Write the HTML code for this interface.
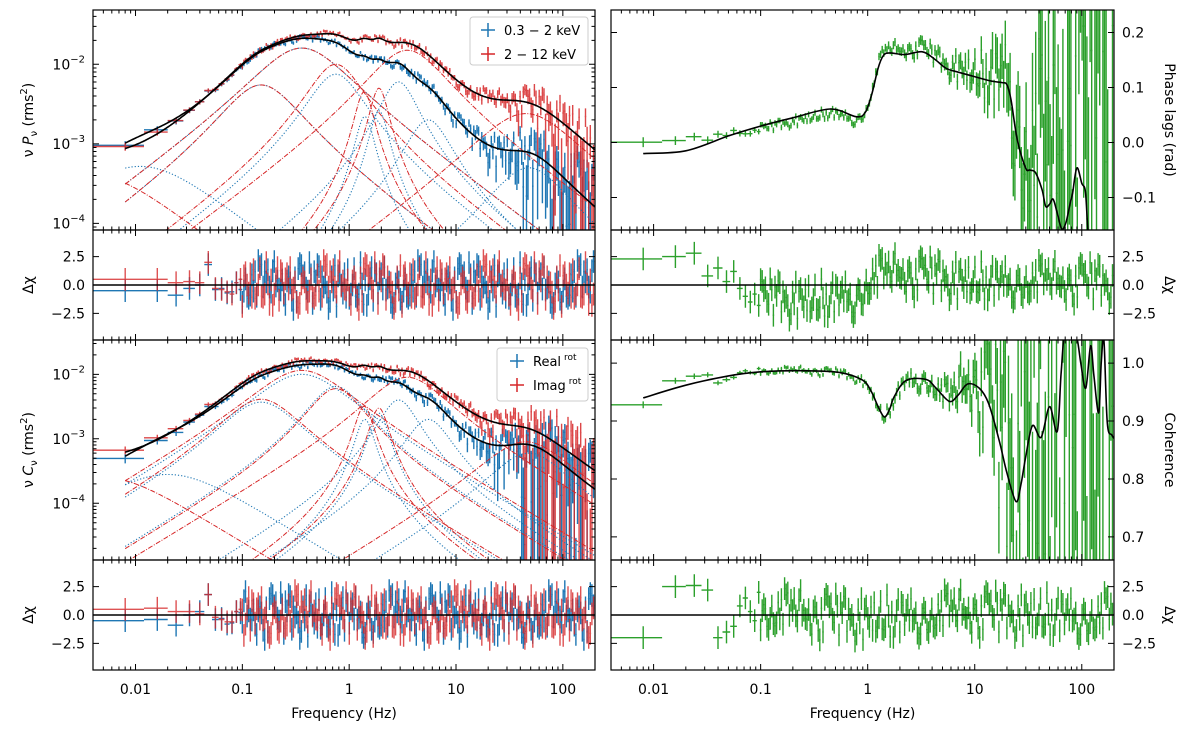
<!DOCTYPE html>
<html><head><meta charset="utf-8"><style>
html,body{margin:0;padding:0;background:#fff;overflow:hidden;width:1200px;height:732px;}
svg{display:block;font-family:"DejaVu Sans","Liberation Sans",sans-serif;}
</style></head><body>
<svg id="c" width="1200" height="732" xmlns="http://www.w3.org/2000/svg"></svg>
<script>
// ---------- data ----------
// Lorentzian components: peak frequency (Hz), quality factor, peak nuP value
const psBlueNu=[0.011,0.15,0.36,0.75,1.4,1.9,2.9,5.5,48];
const psBlueQ=[0,0.5,0.35,0.8,2.5,2.5,1.2,1,0.5];
const psBluePk=[5.2e-4,5.5e-3,1.6e-2,7.5e-3,2.2e-3,2.6e-3,6e-3,2e-3,5e-4];
const psRedNu=[0.004,0.15,0.36,0.75,1.38,1.9,3.5,45];
const psRedQ=[0,0.5,0.35,0.8,2.5,2.5,0.5,0.3];
const psRedPk=[4e-4,5.5e-3,1.6e-2,1.0e-2,4.5e-3,5e-3,1.5e-2,2.4e-3];
const csRealNu=[0.02,0.15,0.36,0.75,1.4,1.9,2.9,5.5,48];
const csRealQ=[0,0.5,0.35,0.8,2.5,2.5,1.2,1,0.5];
const csRealPk=[2.8e-4,3.7e-3,1.0e-2,6.5e-3,2e-3,2.5e-3,4e-3,2e-3,6e-4];
const csImagNu=[0.005,0.15,0.36,0.75,1.38,1.9,3.5,45];
const csImagQ=[0,0.5,0.35,0.8,2.5,2.5,0.5,0.4];
const csImagPk=[2.5e-4,4.1e-3,1.15e-2,6e-3,3.2e-3,3e-3,9e-3,9e-4];
// phase-lag model
const lagF=[0.008,0.02,0.05,0.1,0.2,0.45,0.78,0.95,1.1,1.25,1.4,1.6,2.2,3.24,4.2,5.4,7,9.5,14,18,20,21.8,25,29.9,33,37,42.6,46,50,54,59,65,71,78,82,90,100,108,114,120];
const lagV=[-0.02,-0.015,0.012,0.03,0.045,0.061,0.047,0.055,0.09,0.135,0.158,0.163,0.16,0.165,0.152,0.135,0.128,0.121,0.112,0.109,0.105,0.078,0.005,-0.046,-0.05,-0.055,-0.086,-0.116,-0.112,-0.103,-0.128,-0.157,-0.146,-0.11,-0.092,-0.046,-0.074,-0.089,-0.159,-0.2];
// coherence model
const cohF=[0.008,0.02,0.05,0.1,0.23,0.54,0.89,1.08,1.25,1.43,1.6,1.77,2.28,3.5,4.35,5.8,7,8.57,11,13.5,16.9,20,24.3,27,30,34.6,41.7,50,59,64,70,80,90,98,109,121,130,144,152,161,173,191,200];
const cohV=[0.94,0.962,0.978,0.985,0.987,0.984,0.971,0.951,0.925,0.907,0.92,0.942,0.970,0.972,0.957,0.934,0.945,0.964,0.957,0.93,0.867,0.81,0.761,0.79,0.839,0.892,0.872,0.925,0.882,0.98,1.08,1.1,1.044,1.0,0.957,1.03,0.977,0.914,1.0,1.04,0.897,0.876,0.87];
// residual scatter (sigma units), read as typical pattern
const noise=[0.8,-1.2,0.3,1.9,-0.6,-1.8,1.1,0.2,-0.9,1.5,-2.1,0.6,1.3,-0.4,-1.5,2.2,-0.2,0.9,-1.1,0.4,1.7,-2.4,0.1,-0.7,1.2,-1.3,2.0,-0.5,0.7,-1.9,1.4,0.0,-1.0,1.8,-0.3,-1.6,0.5,2.3,-0.8,1.0,-1.4,0.3,1.6,-2.0,-0.1,1.1,-0.6,0.8,-1.7,2.1,-0.9,0.4,-1.2,1.3,-0.2,-2.2,1.9,0.6,-0.4,1.5,-1.1,0.2,-1.8,0.9,1.7,-0.5,-1.3,2.4,-0.7,0.1,1.2,-1.5,0.5,-0.9,1.8,-2.3,0.7,-0.3,1.4,-1.0,0.0,2.0,-1.6,0.3,-0.6,1.1,-1.9,1.6,-0.2,0.8,-1.4,2.2,-0.8,0.4,-1.1,1.3,-0.5,-1.7,1.0,0.6];
// low-frequency residuals (first 12 bins)
const resPsBlueLow=[-0.5,-0.5,-0.9,-0.3,0.0,1.8,-0.4,-0.3,-0.7,-0.6,0.2,-0.4];
const resPsRedLow=[0.5,0.5,0.2,0.3,0.2,2.0,-0.3,-0.4,-0.6,-0.8,0.2,0.5];
const resCsBlueLow=[-0.5,-0.4,-0.9,0.0,0.3,1.8,-0.4,-0.3,-0.8,-0.7,0.3,0.2];
const resCsRedLow=[0.5,0.6,0.3,0.3,0.1,1.8,-0.2,-0.4,-0.6,-0.6,0.3,0.5];
const resLagLow=[2.3,2.5,2.8,0.8,1.5,0.3,1.2,-0.3,-1.0,-1.5,-0.8,-1.8];
const resCohLow=[-2.0,2.5,2.6,2.2,-2.0,-1.5,-1.0,0.8,1.5,0.3,-0.5,2.0];
const trendLagF=[0.1,0.3,0.8,1.1,2,10,200];
const trendLagV=[-1.2,-1.3,-1.0,0.6,1.0,0.3,0.2];
const trendCohF=[0.1,1,10,200];
const trendCohV=[0.3,-0.3,0.2,-0.2];
// uncertainties
const errF=[0.008,0.1,1,10,30,60,200];
const errPsBlue=[0.12,0.05,0.04,0.1,0.25,0.5,1.0];
const errPsRed=[0.12,0.05,0.04,0.08,0.15,0.3,0.6];
const errCsBlue=[0.15,0.06,0.05,0.12,0.35,0.8,1.5];
const errCsRed=[0.15,0.06,0.05,0.1,0.25,0.6,1.3];
const errLagF=[0.008,0.1,1,5,10,20,40,100,200];
const errLagV=[0.009,0.005,0.006,0.01,0.02,0.045,0.12,0.3,0.5];
const errCohF=[0.008,0.1,1,5,10,16,25,50,100,200];
const errCohV=[0.006,0.003,0.004,0.012,0.03,0.07,0.15,0.3,0.5,0.7];
const xTickVals=[0.01,0.1,1,10,100];
const xTickLabels=["0.01","0.1","1","10","100"];

// ---------- helpers ----------
const NS="http://www.w3.org/2000/svg";
const svg=document.getElementById("c");
function mk(tag,attrs,parent){const e=document.createElementNS(NS,tag);for(const k in attrs)e.setAttribute(k,attrs[k]);(parent||svg).appendChild(e);return e;}
const LX0=Math.log10(0.004),LX1=Math.log10(200);
function interp(xs,ys,x){const lx=Math.log10(x);const L=xs.map(v=>Math.log10(v));if(lx<=L[0])return ys[0];for(let i=1;i<L.length;i++){if(lx<=L[i]){const t=(lx-L[i-1])/(L[i]-L[i-1]);return ys[i-1]+t*(ys[i]-ys[i-1]);}}return ys[ys.length-1];}
function lor(f,nu,Q,pk){const D=nu/Math.sqrt(1+4*Q*Q),f0=2*Q*D;const g=x=>x*D/(D*D+(x-f0)*(x-f0));return pk*g(f)/g(nu);}
function total(f,N,Q,P){let s=0;for(let i=0;i<N.length;i++)s+=lor(f,N[i],Q[i],P[i]);return s;}

const PL={x0:93,x1:595},PR={x0:611,x1:1114};
function panel(col,y0,y1,log,ymin,ymax){return {x0:col.x0,x1:col.x1,y0:y0,y1:y1,log:log,ymin:ymin,ymax:ymax};}
function X(p,f){return p.x0+(Math.log10(f)-LX0)/(LX1-LX0)*(p.x1-p.x0);}
function Y(p,v){let t;if(p.log){if(v<=0)return p.y1+15;t=(Math.log10(v)-p.ymin)/(p.ymax-p.ymin);}else t=(v-p.ymin)/(p.ymax-p.ymin);let y=p.y1-t*(p.y1-p.y0);return Math.max(p.y0-15,Math.min(p.y1+15,y));}

const pPS=panel(PL,10,230,true,-4.084,-1.317);
const pR1=panel(PL,230,340,false,-4.85,4.85);
const pCS=panel(PL,340,560,true,-4.879,-1.468);
const pR2=panel(PL,560,670,false,-4.85,4.85);
const pLag=panel(PR,10,230,false,-0.159,0.241);
const pR3=panel(PR,230,340,false,-4.85,4.85);
const pCoh=panel(PR,340,560,false,0.66,1.04);
const pR4=panel(PR,560,670,false,-4.85,4.85);

// frequency bins
const freqs=[],halfw=[];
for(let k=1;k<=12;k++){freqs.push(0.008*k);halfw.push(0.004);}
for(let f=0.1;f<200;f*=1.035){freqs.push(f);halfw.push(f*0.0175);}

function resid(low,s,amp,tF,tV){return freqs.map((f,i)=>{if(i<low.length)return low[i];const t=tF?interp(tF,tV,f):0;return t+amp*noise[(i*7+s*13)%noise.length];});}
const rPsB=resid(resPsBlueLow,1,0.9),rPsR=resid(resPsRedLow,2,0.9);
const rCsB=resid(resCsBlueLow,3,0.9),rCsR=resid(resCsRedLow,4,0.9);
const rLag=resid(resLagLow,5,0.8,trendLagF,trendLagV);
const rCoh=resid(resCohLow,6,0.9,trendCohF,trendCohV);

let clipId=0;
function clipFor(p){const id="cl"+(clipId++);const cp=mk("clipPath",{id:id});mk("rect",{x:p.x0,y:p.y0,width:p.x1-p.x0,height:p.y1-p.y0},cp);return "url(#"+id+")";}

function frame(p,name,o){
  const g=mk("g",{});
  
  
  let d="";
  for(let e=-3;e<=2;e++)for(let m=1;m<=9;m++){const f=m*Math.pow(10,e);if(f<0.004||f>200)continue;const x=X(p,f),L=m===1?6:3.5;d+=`M${x},${p.y1}v${-L}M${x},${p.y0}v${L}`;}
  if(p.log){for(let e=-5;e<=-1;e++)for(let m=1;m<=9;m++){const v=m*Math.pow(10,e);const lv=Math.log10(v);if(lv<p.ymin||lv>p.ymax)continue;const y=Y(p,v),L=m===1?6:3.5;d+=`M${p.x0},${y}h${L}M${p.x1},${y}h${-L}`;}}
  else{for(const v of o.yt){const y=Y(p,v);d+=`M${p.x0},${y}h6M${p.x1},${y}h-6`;}}
  mk("path",{d:d,stroke:"#000","stroke-width":1,fill:"none"},g);
  mk("rect",{x:p.x0,y:p.y0,width:p.x1-p.x0,height:p.y1-p.y0,fill:"none",stroke:"#000","stroke-width":1.2},g);
  const right=o.side==="right";
  if(p.log){for(let e=-5;e<=-1;e++){const v=Math.pow(10,e);if(e<p.ymin||e>p.ymax)continue;const y=Y(p,v);const t=mk("text",{x:p.x0-8,y:y+5,"text-anchor":"end","font-size":14},g);
      
      
      t.appendChild(document.createTextNode("10"));const s=mk("tspan",{"font-size":10,dy:-7},t);s.textContent="\u2212"+(-e);}}
  else{o.yt.forEach((v,i)=>{const y=Y(p,v);const t=mk("text",{x:right?p.x1+8:p.x0-8,y:y+5,"text-anchor":right?"start":"end","font-size":14},g);
      
      
      t.textContent=o.yl[i];});}
  if(o.xlab){xTickVals.forEach((f,i)=>{const t=mk("text",{x:X(p,f),y:p.y1+24,"text-anchor":"middle","font-size":14},g);
      
      
      t.textContent=xTickLabels[i];});
    const t=mk("text",{x:(p.x0+p.x1)/2,y:p.y1+48,"text-anchor":"middle","font-size":14},g);
    
    
    t.textContent="Frequency (Hz)";}
}
function ylabel(x,y,rot,parts,name){const t=mk("text",{x:0,y:0,"text-anchor":"middle","font-size":14,transform:`translate(${x},${y}) rotate(${rot})`});
  
  
  parts.forEach(pt=>{const s=mk("tspan",pt.a||{},t);s.textContent=pt.t;});}

function curve(p,fn,attrs,name,f0){const pts=[];const n=500;const a=Math.log10(f0||0.008),b=Math.log10(200);for(let i=0;i<=n;i++){const f=Math.pow(10,a+(b-a)*i/n);pts.push(X(p,f).toFixed(1)+","+Y(p,fn(f)).toFixed(1));}
  const e=mk("polyline",Object.assign({points:pts.join(" "),fill:"none","clip-path":p.clip},attrs));
  
  return e;}

function errbars(p,vals,los,his,color,name,op){let d="";freqs.forEach((f,i)=>{const x=X(p,f);const yl=(p.log&&los[i]<=0)?p.y1+10:Y(p,los[i]);d+=`M${x.toFixed(1)},${Y(p,his[i]).toFixed(1)}V${yl.toFixed(1)}`;const y=Y(p,vals[i]).toFixed(1);d+=`M${X(p,f-halfw[i]).toFixed(1)},${y}H${X(p,f+halfw[i]).toFixed(1)}`;});
  const e=mk("path",{d:d,stroke:color,"stroke-width":1.4,fill:"none","clip-path":p.clip,opacity:op||1});
  
  }
function zero(p){const e=mk("line",{x1:p.x0,x2:p.x1,y1:Y(p,0),y2:Y(p,0),stroke:"#000","stroke-width":1.5});
  
  }

[pPS,pR1,pCS,pR2,pLag,pR3,pCoh,pR4].forEach(p=>p.clip=clipFor(p));
const BLUE="#1f77b4",RED="#d62728",GREEN="#2ca02c";

// ---------- power spectra ----------
function powerPanel(p,pr,N1,Q1,P1,N2,Q2,P2,r1,r2,e1,e2,nm){
  const m1=freqs.map(f=>total(f,N1,Q1,P1)),m2=freqs.map(f=>total(f,N2,Q2,P2));
  const s1=freqs.map(f=>interp(errF,e1,f)),s2=freqs.map(f=>interp(errF,e2,f));
  const v1=m1.map((m,i)=>m*(1+r1[i]*s1[i])),v2=m2.map((m,i)=>m*(1+r2[i]*s2[i]));
  errbars(p,v1,v1.map((v,i)=>v-m1[i]*s1[i]),v1.map((v,i)=>v+m1[i]*s1[i]),BLUE,nm+"-blue-data");
  errbars(p,v2,v2.map((v,i)=>v-m2[i]*s2[i]),v2.map((v,i)=>v+m2[i]*s2[i]),RED,nm+"-red-data",0.85);
  N1.forEach((n,i)=>curve(p,f=>lor(f,n,Q1[i],P1[i]),{stroke:BLUE,"stroke-width":1.1,"stroke-dasharray":"1.2,2"},nm+"-blue-component"));
  N2.forEach((n,i)=>curve(p,f=>lor(f,n,Q2[i],P2[i]),{stroke:RED,"stroke-width":1,"stroke-dasharray":"5,1.5,1,1.5"},nm+"-red-component"));
  curve(p,f=>total(f,N1,Q1,P1),{stroke:"#000","stroke-width":1.6},nm+"-blue-model");
  curve(p,f=>total(f,N2,Q2,P2),{stroke:"#000","stroke-width":1.6},nm+"-red-model");
  errbars(pr,r1,r1.map(v=>v-1),r1.map(v=>v+1),BLUE,nm+"-blue-residuals");
  errbars(pr,r2,r2.map(v=>v-1),r2.map(v=>v+1),RED,nm+"-red-residuals",0.8);
  zero(pr);
}
powerPanel(pPS,pR1,psBlueNu,psBlueQ,psBluePk,psRedNu,psRedQ,psRedPk,rPsB,rPsR,errPsBlue,errPsRed,"power");
powerPanel(pCS,pR2,csRealNu,csRealQ,csRealPk,csImagNu,csImagQ,csImagPk,rCsB,rCsR,errCsBlue,errCsRed,"cross");

// ---------- lags & coherence ----------
function smoothPath(pts){let d=`M${pts[0][0].toFixed(1)},${pts[0][1].toFixed(1)}`;for(let i=0;i<pts.length-1;i++){const p0=pts[Math.max(0,i-1)],p1=pts[i],p2=pts[i+1],p3=pts[Math.min(pts.length-1,i+2)];const c1x=p1[0]+(p2[0]-p0[0])/6,c1y=p1[1]+(p2[1]-p0[1])/6,c2x=p2[0]-(p3[0]-p1[0])/6,c2y=p2[1]-(p3[1]-p1[1])/6;d+=`C${c1x.toFixed(1)},${c1y.toFixed(1)} ${c2x.toFixed(1)},${c2y.toFixed(1)} ${p2[0].toFixed(1)},${p2[1].toFixed(1)}`;}return d;}
function greenPanel(p,pr,MF,MV,EF,EV,r,nm){
  const m=freqs.map(f=>interp(MF,MV,f)),s=freqs.map(f=>interp(EF,EV,f));
  const v=m.map((x,i)=>x+r[i]*s[i]);
  errbars(p,v,v.map((x,i)=>x-s[i]),v.map((x,i)=>x+s[i]),GREEN,nm+"-data");
  const pts=MF.map((f,i)=>[X(p,f),Y(p,MV[i])]);
  const e=mk("path",{d:smoothPath(pts),fill:"none",stroke:"#000","stroke-width":1.6,"stroke-linejoin":"round","clip-path":p.clip});
  
  
  errbars(pr,r,r.map(x=>x-1),r.map(x=>x+1),GREEN,nm+"-residuals");
  zero(pr);
}
greenPanel(pLag,pR3,lagF,lagV,errLagF,errLagV,rLag,"phase-lag");
greenPanel(pCoh,pR4,cohF,cohV,errCohF,errCohV,rCoh,"coherence");

// ---------- frames ----------
const rt=[-2.5,0,2.5],rl=["\u22122.5","0.0","2.5"];
frame(pPS,"power",{});
frame(pR1,"power-residual",{yt:rt,yl:rl});
frame(pCS,"cross",{});
frame(pR2,"cross-residual",{yt:rt,yl:rl,xlab:true});
frame(pLag,"phase-lag",{side:"right",yt:[-0.1,0,0.1,0.2],yl:["\u22120.1","0.0","0.1","0.2"]});
frame(pR3,"lag-residual",{side:"right",yt:rt,yl:rl});
frame(pCoh,"coherence",{side:"right",yt:[0.7,0.8,0.9,1.0],yl:["0.7","0.8","0.9","1.0"]});
frame(pR4,"coh-residual",{side:"right",yt:rt,yl:rl,xlab:true});

// ---------- axis titles ----------
ylabel(33,120,-90,[{t:"\u03bd "},{t:"P",a:{"font-style":"italic"}},{t:"\u03bd",a:{"font-size":10,dy:4}},{t:" (rms",a:{dy:-4}},{t:"2",a:{"font-size":10,dy:-6}},{t:")",a:{dy:6}}],"power-y-title");
ylabel(33,285,-90,[{t:"\u0394\u03c7"}],"residual-y-title");
ylabel(33,450,-90,[{t:"\u03bd "},{t:"C",a:{"font-style":"italic"}},{t:"\u03bd",a:{"font-size":10,dy:4}},{t:" (rms",a:{dy:-4}},{t:"2",a:{"font-size":10,dy:-6}},{t:")",a:{dy:6}}],"cross-y-title");
ylabel(33,615,-90,[{t:"\u0394\u03c7"}],"residual-y-title");
ylabel(1165,120,90,[{t:"Phase lags (rad)"}],"lag-y-title");
ylabel(1165,285,90,[{t:"\u0394\u03c7"}],"lag-residual-y-title");
ylabel(1165,450,90,[{t:"Coherence"}],"coherence-y-title");
ylabel(1165,615,90,[{t:"\u0394\u03c7"}],"coh-residual-y-title");

// ---------- legends ----------
function legend(x,y,w,h,mx,tx,entries,name){const g=mk("g",{});
  
  
  mk("rect",{x:x,y:y,width:w,height:h,rx:3,fill:"#fff","fill-opacity":0.85,stroke:"#cccccc"},g);
  entries.forEach((en,i)=>{const cy=y+13+i*24;
    const m=mk("path",{d:`M${mx-7},${cy}h14M${mx},${cy-7}v14`,stroke:en.c,"stroke-width":1.5},g);
    
    
    const t=mk("text",{x:tx,y:cy+5,"font-size":13},g);
    
    
    t.appendChild(document.createTextNode(en.t));
    if(en.sup){const s=mk("tspan",{"font-size":9,dy:-6,dx:3},t);s.textContent=en.sup;}});}
legend(470,17,118,48,488,504,[{c:BLUE,t:"0.3 \u2212 2 keV"},{c:RED,t:"2 \u2212 12 keV"}],"legend-power");
legend(497,348,91,53,517,533,[{c:BLUE,t:"Real",sup:"rot"},{c:RED,t:"Imag",sup:"rot"}],"legend-cross");
</script>
</body></html>
